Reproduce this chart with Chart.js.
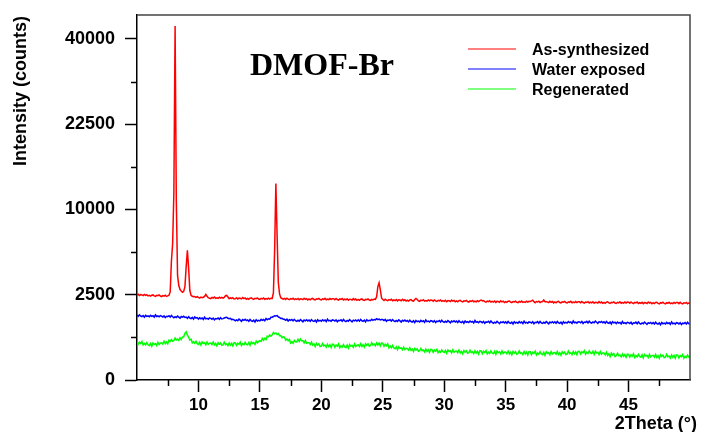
<!DOCTYPE html>
<html>
<head>
<meta charset="utf-8">
<title>DMOF-Br PXRD</title>
<script src="https://cdn.jsdelivr.net/npm/chart.js@4/dist/chart.umd.min.js"></script>
<style>
  html, body { margin: 0; padding: 0; background: #fff; }
  #wrap { width: 702px; height: 432px; position: relative; }
</style>
</head>
<body>
<div id="wrap"><canvas id="c" width="702" height="432"></canvas></div>
<script>
// Scan: 2Theta from 5.0 to 50.0 degrees in 0.1 degree steps
const scanStart = 5.0;
const scanStep = 0.1;

// Intensities (counts), one row per degree
const asSynthesized = [
  2470, 2525, 2450, 2505, 2490, 2455, 2520, 2460, 2500, 2430,
  2460, 2415, 2475, 2490, 2430, 2405, 2465, 2445, 2485, 2425,
  2390, 2450, 2420, 2470, 2400, 2430, 2470, 2650, 4850, 6400,
  12000, 43100, 11000, 3760, 3070, 2815, 2725, 2650, 2700, 3000,
  4400, 5775, 4300, 2750, 2470, 2410, 2380, 2400, 2350, 2385,
  2350, 2310, 2365, 2325, 2355, 2400, 2520, 2410, 2330, 2300,
  2280, 2340, 2310, 2365, 2290, 2325, 2295, 2355, 2305, 2350,
  2310, 2350, 2440, 2460, 2370, 2270, 2315, 2285, 2330, 2260,
  2270, 2325, 2250, 2305, 2295, 2260, 2335, 2275, 2315, 2245,
  2290, 2245, 2305, 2320, 2260, 2235, 2295, 2275, 2315, 2255,
  2230, 2290, 2260, 2315, 2240, 2275, 2245, 2305, 2255, 2300,
  2290, 2600, 5800, 13270, 7200, 3270, 2550, 2330, 2280, 2250,
  2285, 2230, 2300, 2245, 2215, 2275, 2250, 2295, 2220, 2265,
  2230, 2285, 2210, 2265, 2255, 2220, 2295, 2235, 2275, 2205,
  2258, 2213, 2273, 2288, 2228, 2203, 2263, 2243, 2283, 2223,
  2205, 2265, 2235, 2290, 2215, 2250, 2220, 2280, 2230, 2275,
  2268, 2213, 2283, 2228, 2198, 2258, 2233, 2278, 2203, 2248,
  2210, 2265, 2190, 2245, 2235, 2200, 2275, 2215, 2255, 2185,
  2230, 2185, 2245, 2260, 2200, 2175, 2235, 2215, 2255, 2195,
  2180, 2230, 2200, 2255, 2240, 2380, 3000, 3250, 2800, 2320,
  2230, 2175, 2245, 2190, 2160, 2220, 2195, 2240, 2165, 2210,
  2170, 2225, 2150, 2205, 2195, 2160, 2235, 2175, 2215, 2145,
  2190, 2145, 2205, 2220, 2160, 2135, 2230, 2290, 2230, 2155,
  2130, 2190, 2160, 2215, 2140, 2175, 2145, 2205, 2155, 2200,
  2190, 2135, 2205, 2150, 2120, 2180, 2155, 2200, 2125, 2170,
  2130, 2185, 2110, 2165, 2155, 2120, 2195, 2135, 2175, 2105,
  2150, 2105, 2165, 2180, 2120, 2095, 2155, 2135, 2175, 2115,
  2090, 2150, 2120, 2175, 2100, 2135, 2105, 2165, 2115, 2170,
  2200, 2150, 2165, 2110, 2080, 2140, 2115, 2160, 2085, 2130,
  2090, 2145, 2070, 2125, 2115, 2080, 2155, 2095, 2135, 2065,
  2115, 2070, 2130, 2145, 2085, 2060, 2120, 2100, 2140, 2080,
  2060, 2120, 2090, 2145, 2070, 2105, 2075, 2135, 2085, 2130,
  2125, 2150, 2190, 2110, 2055, 2115, 2090, 2135, 2060, 2105,
  2120, 2200, 2110, 2105, 2095, 2060, 2135, 2075, 2115, 2045,
  2095, 2050, 2110, 2125, 2065, 2040, 2100, 2080, 2120, 2060,
  2040, 2100, 2070, 2125, 2050, 2085, 2055, 2115, 2065, 2110,
  2102, 2047, 2117, 2062, 2032, 2092, 2067, 2112, 2037, 2082,
  2045, 2100, 2025, 2080, 2070, 2035, 2110, 2050, 2090, 2020,
  2070, 2025, 2085, 2100, 2040, 2015, 2075, 2055, 2095, 2035,
  2015, 2075, 2045, 2100, 2025, 2060, 2030, 2090, 2040, 2085,
  2080, 2025, 2095, 2040, 2010, 2070, 2045, 2090, 2015, 2060,
  2025, 2080, 2005, 2060, 2050, 2015, 2090, 2030, 2070, 2000,
  2050, 2005, 2065, 2080, 2020, 1995, 2055, 2035, 2075, 2015,
  1995, 2055, 2025, 2080, 2005, 2040, 2010, 2070, 2020, 2065,
  2060, 2005, 2075, 2020, 1990, 2050, 2025, 2070, 1995, 2040,
  2025
];

const waterExposed = [
  1455, 1395, 1460, 1405, 1385, 1430, 1355, 1435, 1390, 1410,
  1375, 1435, 1390, 1420, 1360, 1455, 1385, 1410, 1370, 1425,
  1400, 1365, 1415, 1340, 1395, 1380, 1420, 1360, 1430, 1375,
  1330, 1375, 1340, 1405, 1360, 1315, 1385, 1355, 1395, 1345,
  1360, 1305, 1375, 1320, 1300, 1350, 1275, 1365, 1315, 1340,
  1275, 1335, 1290, 1320, 1260, 1355, 1285, 1310, 1270, 1325,
  1305, 1270, 1320, 1245, 1300, 1285, 1325, 1265, 1335, 1280,
  1295, 1320, 1340, 1355, 1310, 1290, 1305, 1255, 1270, 1240,
  1205, 1245, 1210, 1275, 1230, 1185, 1255, 1225, 1265, 1215,
  1243, 1188, 1258, 1203, 1183, 1233, 1158, 1248, 1198, 1223,
  1200, 1262, 1220, 1255, 1205, 1300, 1250, 1290, 1275, 1350,
  1355, 1385, 1420, 1410, 1425, 1370, 1345, 1300, 1310, 1265,
  1265, 1225, 1270, 1195, 1250, 1225, 1260, 1200, 1265, 1210,
  1180, 1225, 1190, 1255, 1210, 1165, 1235, 1205, 1245, 1195,
  1240, 1185, 1255, 1200, 1180, 1230, 1155, 1245, 1195, 1220,
  1190, 1250, 1205, 1235, 1175, 1270, 1200, 1225, 1185, 1240,
  1227, 1192, 1242, 1167, 1222, 1207, 1247, 1187, 1257, 1202,
  1175, 1220, 1185, 1250, 1205, 1160, 1230, 1200, 1240, 1190,
  1245, 1190, 1260, 1205, 1185, 1235, 1160, 1250, 1200, 1225,
  1210, 1270, 1225, 1260, 1245, 1290, 1255, 1275, 1240, 1260,
  1255, 1215, 1260, 1185, 1235, 1220, 1250, 1195, 1255, 1200,
  1170, 1215, 1180, 1245, 1200, 1155, 1225, 1195, 1235, 1185,
  1215, 1160, 1230, 1175, 1155, 1205, 1130, 1220, 1170, 1195,
  1160, 1220, 1175, 1205, 1145, 1240, 1170, 1195, 1155, 1210,
  1195, 1160, 1210, 1135, 1190, 1175, 1215, 1155, 1225, 1170,
  1140, 1185, 1150, 1215, 1170, 1125, 1195, 1165, 1205, 1155,
  1193, 1138, 1208, 1153, 1133, 1183, 1108, 1198, 1148, 1173,
  1135, 1195, 1150, 1180, 1120, 1215, 1145, 1170, 1130, 1185,
  1165, 1130, 1180, 1105, 1160, 1145, 1185, 1125, 1195, 1140,
  1105, 1150, 1115, 1180, 1135, 1090, 1160, 1130, 1170, 1120,
  1163, 1108, 1178, 1123, 1103, 1153, 1078, 1168, 1118, 1143,
  1110, 1170, 1125, 1155, 1095, 1190, 1120, 1145, 1105, 1160,
  1150, 1115, 1165, 1090, 1145, 1130, 1170, 1110, 1180, 1125,
  1100, 1145, 1110, 1175, 1130, 1085, 1155, 1125, 1165, 1115,
  1163, 1108, 1178, 1123, 1103, 1153, 1078, 1168, 1118, 1143,
  1115, 1175, 1130, 1160, 1100, 1195, 1125, 1150, 1110, 1165,
  1160, 1125, 1175, 1100, 1155, 1140, 1180, 1120, 1190, 1135,
  1115, 1160, 1125, 1190, 1145, 1100, 1170, 1140, 1180, 1130,
  1165, 1110, 1180, 1125, 1105, 1155, 1080, 1170, 1120, 1145,
  1095, 1155, 1110, 1140, 1080, 1175, 1105, 1130, 1090, 1145,
  1130, 1095, 1145, 1070, 1125, 1110, 1150, 1090, 1160, 1105,
  1075, 1120, 1085, 1150, 1105, 1060, 1130, 1100, 1140, 1090,
  1133, 1078, 1148, 1093, 1073, 1123, 1048, 1138, 1088, 1113,
  1080, 1140, 1095, 1125, 1065, 1160, 1090, 1115, 1075, 1130,
  1115, 1080, 1130, 1055, 1110, 1095, 1135, 1075, 1145, 1090,
  1095
];

const regenerated = [
  510, 441, 492, 458, 509, 420, 460, 425, 480, 425,
  405, 460, 391, 472, 433, 455, 409, 488, 432, 466,
  475, 443, 516, 454, 502, 450, 542, 515, 563, 515,
  535, 605, 550, 575, 537, 614, 565, 635, 640, 750,
  800, 690, 630, 550, 575, 475, 505, 465, 515, 455,
  435, 489, 418, 497, 456, 475, 424, 498, 438, 466,
  470, 429, 494, 423, 461, 400, 479, 439, 472, 412,
  425, 490, 430, 450, 405, 475, 420, 465, 400, 480,
  475, 411, 466, 437, 493, 410, 456, 427, 488, 438,
  425, 482, 414, 496, 459, 482, 435, 520, 470, 515,
  535, 512, 595, 542, 600, 560, 660, 640, 695, 658,
  700, 775, 735, 760, 710, 740, 675, 680, 615, 640,
  630, 545, 580, 530, 565, 470, 505, 465, 538, 502,
  500, 568, 510, 580, 527, 535, 473, 535, 463, 480,
  480, 434, 493, 417, 451, 385, 461, 417, 448, 384,
  395, 459, 398, 417, 371, 440, 384, 428, 362, 441,
  435, 369, 423, 393, 446, 358, 402, 370, 428, 377,
  360, 417, 348, 430, 391, 413, 368, 446, 386, 418,
  425, 387, 454, 386, 428, 370, 452, 414, 451, 393,
  410, 478, 421, 444, 402, 475, 422, 468, 400, 473,
  460, 390, 440, 402, 450, 357, 395, 357, 410, 352,
  336, 377, 318, 379, 344, 357, 314, 371, 320, 341,
  342, 308, 358, 300, 330, 280, 342, 308, 334, 284,
  294, 344, 295, 309, 272, 326, 281, 315, 262, 324,
  319, 265, 309, 284, 323, 258, 290, 266, 312, 273,
  259, 302, 246, 309, 277, 293, 253, 312, 264, 287,
  290, 257, 308, 252, 283, 235, 299, 266, 294, 245,
  256, 307, 259, 274, 238, 293, 249, 284, 231, 295,
  291, 238, 282, 258, 299, 233, 266, 243, 291, 250,
  238, 282, 226, 289, 257, 273, 232, 292, 244, 267,
  270, 238, 289, 233, 265, 217, 281, 248, 276, 228,
  239, 291, 243, 257, 221, 277, 232, 267, 215, 278,
  274, 221, 265, 240, 284, 216, 251, 227, 275, 235,
  221, 265, 209, 274, 243, 258, 219, 279, 232, 256,
  260, 228, 280, 224, 256, 209, 273, 240, 268, 221,
  234, 287, 240, 256, 221, 277, 235, 272, 221, 285,
  282, 231, 276, 253, 297, 229, 265, 242, 291, 252,
  241, 283, 224, 285, 250, 264, 222, 280, 229, 251,
  252, 217, 267, 208, 238, 187, 249, 214, 240, 189,
  201, 246, 203, 216, 183, 231, 192, 222, 176, 230,
  226, 180, 218, 196, 234, 175, 206, 183, 225, 191,
  179, 217, 168, 223, 196, 209, 174, 227, 184, 205,
  208, 179, 225, 176, 203, 161, 217, 189, 213, 171,
  181, 226, 184, 198, 166, 215, 177, 208, 162, 218,
  214, 168, 206, 185, 223, 164, 195, 174, 215, 180,
  190
];

const seriesNames = ['As-synthesized', 'Water exposed', 'Regenerated'];
const seriesColors = ['#ff0000', '#0000ff', '#00ff00'];

const xMajorTicks = [10, 15, 20, 25, 30, 35, 40, 45];
const xMinorTicks = [7.5, 12.5, 17.5, 22.5, 27.5, 32.5, 37.5, 42.5, 47.5];
const yMajorTicks = [0, 2500, 10000, 22500, 40000];
const yMinorTicks = [625, 5625, 15625, 30625];

const chartTitle = 'DMOF-Br';
const xTitle = '2Theta (°)';
const yTitle = 'Intensity (counts)';

const twoTheta = asSynthesized.map((_, i) => +(scanStart + i * scanStep).toFixed(1));
const toPoints = arr => arr.map((v, i) => ({ x: twoTheta[i], y: v }));

// Square-root intensity axis
class SqrtScale extends Chart.LinearScale {
  getPixelForValue(value) {
    const lo = Math.sqrt(this.min), hi = Math.sqrt(this.max);
    const s = Math.sqrt(Math.max(value, 0));
    return this.getPixelForDecimal((s - lo) / (hi - lo));
  }
  getValueForPixel(pixel) {
    const lo = Math.sqrt(this.min), hi = Math.sqrt(this.max);
    const s = lo + this.getDecimalForPixel(pixel) * (hi - lo);
    return s * s;
  }
}
SqrtScale.id = 'sqrt';
SqrtScale.defaults = { ticks: { callback: v => String(v) } };
Chart.register(SqrtScale);

const SANS = "'Liberation Sans', Arial, Helvetica, sans-serif";
const SERIF = "'Liberation Serif', 'Times New Roman', Times, serif";

const decorations = {
  id: 'decorations',
  afterDraw(chart) {
    const { ctx, chartArea: a, scales } = chart;
    const xs = scales.x, ys = scales.y;
    ctx.save();

    // top and right frame lines
    ctx.strokeStyle = '#444';
    ctx.lineWidth = 1.5;
    ctx.beginPath();
    ctx.moveTo(a.left, a.top);
    ctx.lineTo(a.right, a.top);
    ctx.lineTo(a.right, a.bottom);
    ctx.stroke();

    // minor ticks
    ctx.strokeStyle = '#000';
    ctx.lineWidth = 1.5;
    ctx.beginPath();
    xMinorTicks.forEach(v => {
      const px = Math.round(xs.getPixelForValue(v)) + 0.5;
      ctx.moveTo(px, a.bottom);
      ctx.lineTo(px, a.bottom + 6);
    });
    yMinorTicks.forEach(v => {
      const py = Math.round(ys.getPixelForValue(v)) + 0.5;
      ctx.moveTo(a.left, py);
      ctx.lineTo(a.left - 6, py);
    });
    ctx.stroke();

    // axis titles
    ctx.fillStyle = '#000';
    ctx.font = 'bold 18px ' + SANS;
    ctx.textAlign = 'right';
    ctx.textBaseline = 'alphabetic';
    ctx.fillText(xTitle, 697, 429);

    ctx.save();
    ctx.translate(26, 91);
    ctx.rotate(-Math.PI / 2);
    ctx.textAlign = 'center';
    ctx.fillText(yTitle, 0, 0);
    ctx.restore();

    // chart title inside the plot
    ctx.font = 'bold 32px ' + SERIF;
    ctx.textAlign = 'left';
    ctx.fillText(chartTitle, 250, 75);

    // legend
    ctx.font = 'bold 16px ' + SANS;
    chart.data.datasets.forEach((ds, i) => {
      const y = 49 + i * 20;
      ctx.strokeStyle = ds.borderColor;
      ctx.lineWidth = 1;
      ctx.beginPath();
      ctx.moveTo(468, y);
      ctx.lineTo(516, y);
      ctx.stroke();
      ctx.fillStyle = '#000';
      ctx.fillText(ds.label, 532, y + 6);
    });

    ctx.restore();
  }
};

const axisFont = size => ({ family: SANS, size, weight: 'bold' });

// scale sizes are fixed so the plot box lands where it should
const fixBox = (w, h) => s => {
  if (w !== null) s.width = w;
  if (h !== null) s.height = h;
  s.paddingTop = 0; s.paddingBottom = 0; s.paddingLeft = 0; s.paddingRight = 0;
};

new Chart(document.getElementById('c'), {
  type: 'line',
  data: {
    datasets: [asSynthesized, waterExposed, regenerated].map((arr, i) => ({
      label: seriesNames[i],
      data: toPoints(arr),
      borderColor: seriesColors[i],
      backgroundColor: seriesColors[i],
      borderWidth: 1.5,
      pointRadius: 0,
      tension: 0,
      fill: false
    }))
  },
  options: {
    responsive: false,
    animation: false,
    devicePixelRatio: 1,
    parsing: false,
    layout: { padding: { top: 15, right: 12, left: 0, bottom: 0 } },
    plugins: { legend: { display: false }, tooltip: { enabled: false }, title: { display: false } },
    scales: {
      x: {
        type: 'linear',
        min: 5,
        max: 50,
        afterBuildTicks: s => { s.ticks = xMajorTicks.map(v => ({ value: v })); },
        afterFit: fixBox(null, 52),
        grid: { drawOnChartArea: false, drawTicks: true, tickLength: 12, tickColor: '#000', tickWidth: 1.5 },
        border: { display: true, color: '#000', width: 1.5 },
        ticks: { color: '#000', font: axisFont(17), padding: 3, autoSkip: false, maxRotation: 0, callback: v => String(v) }
      },
      y: {
        type: 'sqrt',
        min: 0,
        max: 45800,
        bounds: 'data',
        afterBuildTicks: s => { s.ticks = yMajorTicks.map(v => ({ value: v })); },
        afterFit: fixBox(137, null),
        grid: { drawOnChartArea: false, drawTicks: true, tickLength: 12, tickColor: '#000', tickWidth: 1.5 },
        border: { display: true, color: '#000', width: 1.5 },
        ticks: { color: '#000', font: axisFont(18), padding: 10, autoSkip: false, callback: v => String(v) }
      }
    }
  },
  plugins: [decorations]
});
</script>
</body>
</html>
